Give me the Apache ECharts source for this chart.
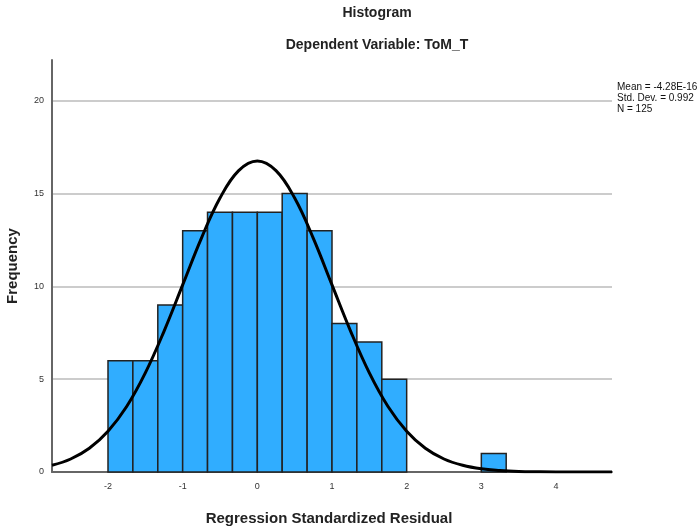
<!DOCTYPE html>
<html>
<head>
<meta charset="utf-8">
<script src="https://cdn.jsdelivr.net/npm/echarts@6/dist/echarts.min.js"></script>
<style>
  html, body { margin: 0; padding: 0; background: #fff; }
  #main { width: 700px; height: 529px; }
</style>
</head>
<body>
<div id="main"></div>
<script>
// bins (left edge, right edge) and counts
var binLow  = [-2, -1.667, -1.333, -1, -0.667, -0.333, 0, 0.333, 0.667, 1, 1.333, 1.667, 3.0];
var binHigh = [-1.667, -1.333, -1, -0.667, -0.333, 0, 0.333, 0.667, 1, 1.333, 1.667, 2, 3.333];
var counts  = [6, 6, 9, 13, 14, 14, 14, 15, 13, 8, 7, 5, 1];

// normal curve, read at 0.25 steps
var curveX = [-2.75, -2.5, -2.25, -2, -1.75, -1.5, -1.25, -1, -0.75, -0.5, -0.25, 0,
              0.25, 0.5, 0.75, 1, 1.25, 1.5, 1.75, 2, 2.25, 2.5, 2.75, 3, 3.25, 3.5, 3.75, 4, 4.25, 4.5, 4.75];
var curveY = [0.36, 0.7, 1.28, 2.2, 3.53, 5.34, 7.58, 10.08, 12.59, 14.76, 16.24, 16.76,
              16.24, 14.76, 12.59, 10.08, 7.58, 5.34, 3.53, 2.2, 1.28, 0.7, 0.36, 0.17, 0.08, 0.03, 0.01, 0.0, 0.0, 0.0, 0.0];

var xTicks = [-2, -1, 0, 1, 2, 3, 4];
var yTicks = [0, 5, 10, 15, 20];

var statLines = ['Mean = -4.28E-16', 'Std. Dev. = 0.992', 'N = 125'];

var myChart = echarts.init(document.getElementById('main'));

var barData = [];
for (var i = 0; i < counts.length; i++) {
    barData.push([binLow[i], binHigh[i], counts[i]]);
}
var lineData = [];
for (var j = 0; j < curveX.length; j++) {
    lineData.push([curveX[j], curveY[j]]);
}

var font = 'Liberation Sans, Arial, sans-serif';

var option = {
    animation: false,
    backgroundColor: '#fff',
    title: [
        {
            text: 'Histogram',
            left: 372, top: 1, textAlign: 'center',
            textStyle: { fontFamily: font, fontSize: 14, fontWeight: 'bold', color: '#222' }
        },
        {
            text: 'Dependent Variable: ToM_T',
            left: 372, top: 33, textAlign: 'center',
            textStyle: { fontFamily: font, fontSize: 14, fontWeight: 'bold', color: '#222' }
        }
    ],
    grid: { left: 52, right: 88, top: 60, bottom: 57, outerBoundsMode: 'none', containLabel: false },
    xAxis: {
        type: 'value',
        min: -2.75,
        max: 4.75,
        name: 'Regression Standardized Residual',
        nameLocation: 'middle',
        nameGap: 39,
        nameTextStyle: { fontFamily: font, fontSize: 15, fontWeight: 'bold', color: '#222', padding: [0, 0, 0, -6] },
        axisLine: { show: true, onZero: false, lineStyle: { color: '#666', width: 2 } },
        axisTick: { show: false, customValues: xTicks },
        axisLabel: { customValues: xTicks, fontFamily: font, fontSize: 9, color: '#333', margin: 10 },
        splitLine: { show: false }
    },
    yAxis: {
        type: 'value',
        min: 0,
        max: 22.2,
        name: 'Frequency',
        nameLocation: 'middle',
        nameGap: 32,
        nameTextStyle: { fontFamily: font, fontSize: 15, fontWeight: 'bold', color: '#222' },
        axisLine: { show: true, onZero: false, lineStyle: { color: '#666', width: 2 } },
        axisTick: { show: false, customValues: yTicks },
        axisLabel: { customValues: yTicks, fontFamily: font, fontSize: 9, color: '#333', margin: 8 },
        splitLine: { show: true, lineStyle: { color: '#bbb', width: 1.5 } }
    },
    graphic: [
        {
            type: 'text',
            left: 617, top: 82,
            style: {
                text: statLines.join('\n'),
                font: '10px "Liberation Sans Narrow", "Liberation Sans", Arial, sans-serif',
                fill: '#111',
                lineHeight: 11
            }
        }
    ],
    series: [
        {
            type: 'custom',
            z: 2,
            data: barData,
            renderItem: function (params, api) {
                var p0 = api.coord([api.value(0), api.value(2)]);
                var p1 = api.coord([api.value(1), 0]);
                return {
                    type: 'rect',
                    shape: { x: p0[0], y: p0[1], width: p1[0] - p0[0], height: p1[1] - p0[1] },
                    style: { fill: '#30adff', stroke: '#222', lineWidth: 1.5 }
                };
            }
        },
        {
            type: 'line',
            z: 3,
            data: lineData,
            smooth: 0.4,
            showSymbol: false,
            lineStyle: { color: '#000', width: 3 }
        }
    ]
};

myChart.setOption(option);
</script>
</body>
</html>
